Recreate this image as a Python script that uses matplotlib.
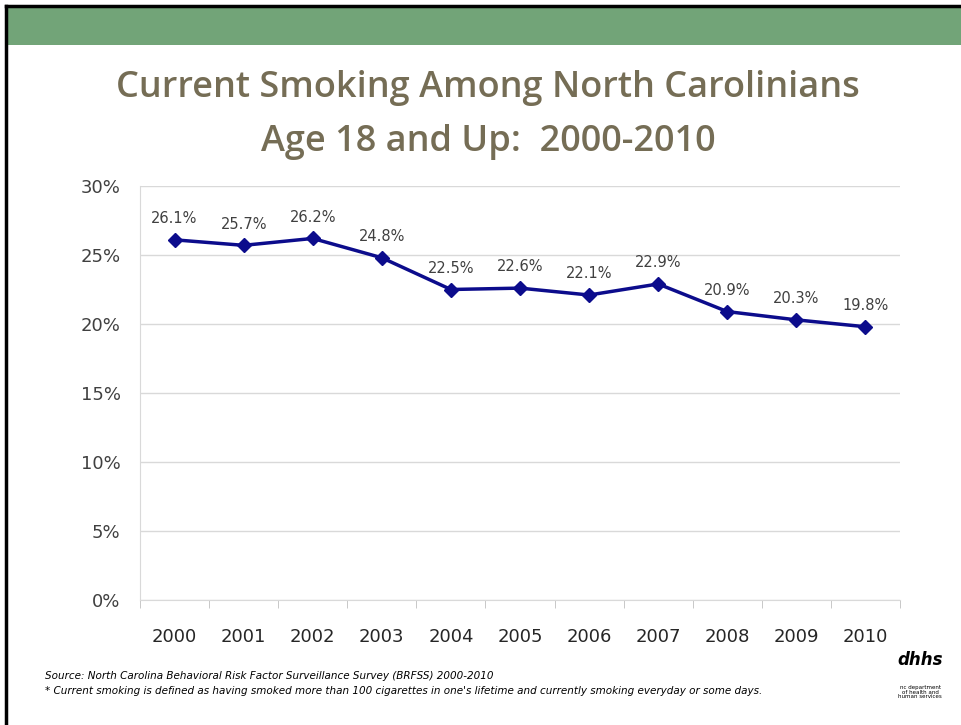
import matplotlib.pyplot as plt
from matplotlib.patches import Rectangle

# Datos
years = ['2000', '2001', '2002', '2003', '2004', '2005', '2006', '2007', '2008', '2009', '2010']
smoking = [26.1, 25.7, 26.2, 24.8, 22.5, 22.6, 22.1, 22.9, 20.9, 20.3, 19.8]
y_ticks = [0, 5, 10, 15, 20, 25, 30]

W, H = 961, 725
fig = plt.figure(figsize=(W / 100, H / 100), dpi=100)

# Banda verde superior y borde negro
fig.patches.append(Rectangle((6 / W, 1 - 45 / H), 1, 38 / H, transform=fig.transFigure,
                             facecolor='#72a478', edgecolor='none'))
fig.add_artist(plt.Line2D([6 / W, 1], [1 - 6 / H, 1 - 6 / H], color='black', lw=2.5, transform=fig.transFigure))
fig.add_artist(plt.Line2D([6 / W, 6 / W], [0, 1 - 6 / H], color='black', lw=2.5, transform=fig.transFigure))

# Título
title_color = '#756d55'
fig.text(488 / W, 1 - 88 / H, 'Current Smoking Among North Carolinians', ha='center', va='center',
         fontsize=26, color=title_color, family='Open Sans', weight='semibold')
fig.text(488 / W, 1 - 142 / H, 'Age 18 and Up:  2000-2010', ha='center', va='center',
         fontsize=26, color=title_color, family='Open Sans', weight='semibold')

# Ejes
ax = fig.add_axes([140 / W, 1 - 600 / H, 760 / W, 414 / H])
x = list(range(len(years)))
ax.plot(x, smoking, color='#0c0c8c', lw=2.5, marker='D', markersize=7)
for xi, v in zip(x, smoking):
    ax.text(xi, v + 1.0, f'{v}%', ha='center', va='bottom', fontsize=10.5, color='#404040')

ax.set_xlim(-0.5, len(years) - 0.5)
ax.set_ylim(0, 30)
ax.set_yticks(y_ticks)
ax.set_yticklabels([f'{t}%' for t in y_ticks], fontsize=13, color='#404040')
ax.set_xticks(x)
ax.set_xticklabels(years, fontsize=13, color='#262626')
ax.set_xticks([i - 0.5 for i in range(len(years) + 1)], minor=True)
ax.tick_params(axis='x', which='major', length=0, pad=20)
ax.tick_params(axis='x', which='minor', length=6, color='#bfbfbf')
ax.tick_params(axis='y', length=0, pad=14)
ax.grid(axis='y', color='#d9d9d9', lw=1)
ax.set_axisbelow(True)
for s in ['top', 'right']:
    ax.spines[s].set_visible(False)
ax.spines['left'].set_color('#d9d9d9')
ax.spines['bottom'].set_color('#d9d9d9')

# Notas al pie
fig.text(45 / W, 1 - 676 / H, 'Source: North Carolina Behavioral Risk Factor Surveillance Survey (BRFSS) 2000-2010',
         fontsize=7.5, style='italic', color='black', va='center')
fig.text(45 / W, 1 - 691 / H, '* Current smoking is defined as having smoked more than 100 cigarettes in one\'s lifetime and currently smoking everyday or some days.',
         fontsize=7.5, style='italic', color='black', va='center')

# Logotipo (aproximado)
fig.text(920 / W, 1 - 660 / H, 'dhhs', ha='center', va='center', fontsize=12, weight='bold', style='italic')
fig.text(920 / W, 1 - 692 / H, 'nc department\nof health and\nhuman services', ha='center', va='center',
         fontsize=4, linespacing=1.0)

fig.savefig('out.png', dpi=100)
